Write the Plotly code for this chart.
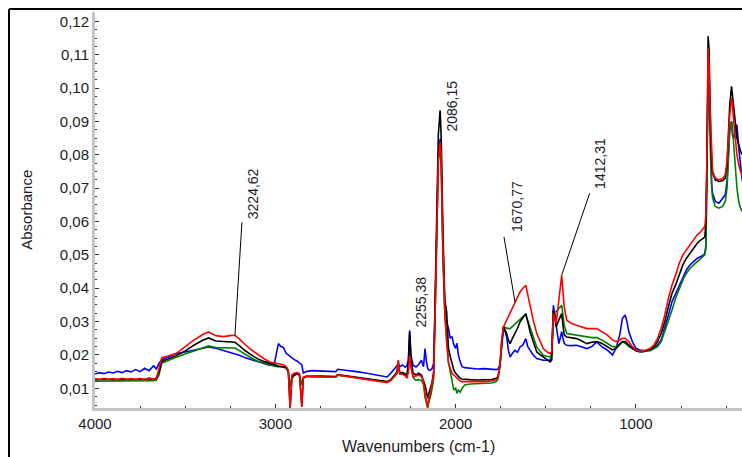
import plotly.graph_objects as go

# ---------------- data ----------------
wn = [4000, 3975, 3950, 3925, 3900, 3875, 3850, 3825, 3800, 3775,
      3750, 3725, 3700, 3675, 3660, 3645, 3630, 3600, 3575, 3550,
      3500, 3450, 3400, 3370, 3330, 3290, 3250, 3224, 3200, 3170,
      3130, 3100, 3060, 3030, 3005, 2990, 2983, 2970, 2955, 2940,
      2928, 2918, 2908, 2895, 2880, 2866, 2853, 2845, 2830, 2800,
      2750, 2700, 2665, 2655, 2600, 2550, 2500, 2450, 2400, 2380,
      2360, 2340, 2325, 2318, 2310, 2295, 2280, 2270, 2262, 2255,
      2248, 2236, 2220, 2205, 2190, 2178, 2170, 2162, 2155, 2148,
      2140, 2130, 2122, 2114, 2105, 2096, 2086, 2080, 2070, 2060,
      2050, 2040, 2030, 2020, 2010, 2000, 1993, 1985, 1975, 1965,
      1950, 1920, 1880, 1840, 1800, 1775, 1765, 1754, 1745, 1735,
      1726, 1717, 1708, 1698, 1685, 1671, 1657, 1643, 1627, 1611,
      1600, 1587, 1570, 1550, 1530, 1514, 1495, 1476, 1467, 1458,
      1450, 1443, 1435, 1427, 1420, 1412, 1405, 1398, 1384, 1360,
      1329, 1300, 1273, 1245, 1218, 1190, 1160, 1130, 1110, 1090,
      1075, 1060, 1050, 1040, 1020, 1000, 980, 960, 940, 920,
      900, 880, 860, 840, 820, 800, 780, 760, 740, 720,
      700, 680, 660, 640, 625, 618, 612, 606, 600, 595,
      590, 585, 580, 575, 560, 540, 520, 505, 495, 488,
      480, 470, 465, 458, 450, 440, 430, 420, 410]

blue = [.0143, .0147, .0144, .0149, .0146, .0151, .0147, .0153, .0149, .0156,
        .0150, .0160, .0153, .0168, .0158, .0175, .0185, .0192, .0200, .0204,
        .0209, .0214, .0220, .0224, .0220, .0214, .0208, .0204, .0199, .0192,
        .0185, .0179, .0173, .0169, .0175, .0215, .0234, .0226, .0222, .0205,
        .0200, .0195, .0190, .0186, .0182, .0176, .0170, .0146, .0150, .0153,
        .0152, .0151, .0150, .0157, .0154, .0150, .0146, .0141, .0136, .0134,
        .0145, .0160, .0168, .0172, .0165, .0170, .0163, .0168, .0185, .0274,
        .0200, .0169, .0164, .0172, .0184, .0165, .0219, .0180, .0160, .0154,
        .0154, .0160, .0175, .0330, .0600, .0800, .0848, .0780, .0500, .0340,
        .0300, .0280, .0250, .0255, .0230, .0220, .0235, .0200, .0180, .0165,
        .0162, .0160, .0158, .0159, .0157, .0156, .0158, .0170, .0230, .0279,
        .0270, .0254, .0215, .0194, .0205, .0214, .0208, .0224, .0230, .0249,
        .0225, .0214, .0200, .0189, .0186, .0184, .0184, .0184, .0200, .0349,
        .0320, .0284, .0260, .0234, .0250, .0270, .0250, .0235, .0229, .0228,
        .0229, .0225, .0219, .0225, .0239, .0225, .0215, .0200, .0220, .0260,
        .0310, .0320, .0300, .0270, .0240, .0220, .0215, .0213, .0213, .0215,
        .0220, .0230, .0245, .0280, .0320, .0360, .0385, .0410, .0435, .0455,
        .0470, .0480, .0490, .0495, .0500, .0505, .0530, .0780, .1050, .1000,
        .0880, .0780, .0710, .0685, .0660, .0655, .0670, .0680, .0720, .0820,
        .0880, .0900, .0860, .0850, .0870, .0890, .0820, .0760, .0720]

black = [.0126, .0127, .0126, .0127, .0126, .0127, .0126, .0127, .0127, .0127,
         .0127, .0128, .0128, .0128, .0130, .0150, .0180, .0187, .0192, .0198,
         .0212, .0230, .0245, .0251, .0242, .0240, .0239, .0238, .0228, .0214,
         .0199, .0189, .0180, .0174, .0170, .0168, .0167, .0166, .0165, .0163,
         .0150, .0040, .0130, .0140, .0144, .0140, .0045, .0130, .0136, .0137,
         .0137, .0136, .0135, .0141, .0137, .0133, .0129, .0125, .0121, .0120,
         .0126, .0138, .0148, .0175, .0145, .0148, .0142, .0140, .0180, .0269,
         .0190, .0145, .0140, .0145, .0140, .0125, .0110, .0090, .0070, .0085,
         .0100, .0120, .0150, .0340, .0620, .0860, .0933, .0850, .0560, .0364,
         .0330, .0220, .0195, .0170, .0155, .0145, .0140, .0135, .0130, .0128,
         .0127, .0126, .0125, .0125, .0126, .0130, .0135, .0170, .0235, .0284,
         .0275, .0264, .0245, .0234, .0250, .0264, .0280, .0299, .0312, .0324,
         .0300, .0269, .0240, .0209, .0200, .0194, .0185, .0179, .0185, .0334,
         .0320, .0284, .0295, .0304, .0315, .0324, .0290, .0260, .0254, .0252,
         .0249, .0242, .0234, .0238, .0240, .0235, .0225, .0215, .0220, .0230,
         .0240, .0240, .0235, .0230, .0220, .0213, .0210, .0210, .0213, .0218,
         .0225, .0240, .0265, .0300, .0345, .0385, .0410, .0440, .0470, .0490,
         .0505, .0520, .0535, .0545, .0550, .0555, .0600, .0800, .1155, .1120,
         .0950, .0850, .0770, .0745, .0725, .0720, .0722, .0730, .0770, .0860,
         .0950, .1005, .0980, .0930, .0890, .0850, .0830, .0810, .0800]

green = [.0121, .0121, .0122, .0121, .0122, .0121, .0122, .0122, .0121, .0122,
         .0122, .0122, .0123, .0123, .0124, .0140, .0175, .0182, .0188, .0193,
         .0203, .0212, .0222, .0227, .0222, .0221, .0222, .0221, .0213, .0202,
         .0190, .0182, .0175, .0169, .0166, .0165, .0164, .0164, .0163, .0160,
         .0150, .0105, .0135, .0140, .0143, .0140, .0110, .0132, .0135, .0135,
         .0135, .0134, .0133, .0139, .0135, .0131, .0127, .0123, .0120, .0119,
         .0124, .0136, .0150, .0182, .0143, .0145, .0140, .0138, .0160, .0204,
         .0170, .0132, .0124, .0126, .0124, .0110, .0074, .0060, .0040, .0060,
         .0074, .0100, .0130, .0320, .0590, .0780, .0823, .0760, .0480, .0320,
         .0250, .0180, .0150, .0120, .0095, .0100, .0085, .0095, .0088, .0100,
         .0110, .0113, .0114, .0115, .0116, .0120, .0128, .0165, .0240, .0284,
         .0282, .0280, .0279, .0279, .0286, .0294, .0300, .0309, .0315, .0320,
         .0303, .0279, .0252, .0224, .0210, .0199, .0196, .0194, .0200, .0334,
         .0330, .0329, .0335, .0340, .0345, .0349, .0320, .0290, .0264, .0262,
         .0259, .0256, .0254, .0252, .0252, .0245, .0235, .0225, .0225, .0235,
         .0240, .0235, .0230, .0225, .0220, .0212, .0210, .0210, .0211, .0213,
         .0218, .0225, .0240, .0270, .0300, .0335, .0370, .0400, .0425, .0445,
         .0460, .0470, .0480, .0490, .0495, .0500, .0520, .0750, .1030, .1000,
         .0850, .0770, .0700, .0670, .0645, .0640, .0645, .0660, .0700, .0800,
         .0870, .0900, .0880, .0830, .0760, .0700, .0660, .0640, .0630]

red = [.0129, .0126, .0130, .0127, .0129, .0126, .0130, .0127, .0129, .0126,
       .0130, .0125, .0131, .0127, .0128, .0160, .0192, .0196, .0200, .0204,
       .0225, .0245, .0262, .0269, .0258, .0255, .0258, .0259, .0248, .0232,
       .0214, .0202, .0188, .0179, .0176, .0174, .0173, .0172, .0171, .0165,
       .0155, .0040, .0140, .0145, .0147, .0144, .0045, .0133, .0136, .0135,
       .0135, .0134, .0133, .0140, .0135, .0131, .0127, .0123, .0119, .0117,
       .0124, .0136, .0145, .0185, .0143, .0142, .0138, .0130, .0150, .0199,
       .0165, .0134, .0138, .0140, .0135, .0120, .0084, .0065, .0044, .0070,
       .0084, .0120, .0140, .0324, .0600, .0790, .0838, .0800, .0520, .0330,
       .0240, .0175, .0160, .0145, .0140, .0135, .0130, .0125, .0122, .0120,
       .0120, .0119, .0119, .0120, .0122, .0126, .0134, .0174, .0240, .0284,
       .0294, .0304, .0314, .0324, .0340, .0359, .0374, .0389, .0400, .0409,
       .0380, .0344, .0305, .0264, .0238, .0219, .0210, .0204, .0210, .0324,
       .0310, .0294, .0330, .0374, .0410, .0439, .0390, .0344, .0304, .0295,
       .0289, .0284, .0279, .0279, .0279, .0270, .0260, .0245, .0240, .0245,
       .0250, .0250, .0245, .0240, .0225, .0215, .0212, .0212, .0215, .0220,
       .0230, .0250, .0280, .0320, .0370, .0410, .0440, .0475, .0500, .0515,
       .0530, .0545, .0560, .0570, .0580, .0585, .0620, .0800, .1120, .1080,
       .0950, .0860, .0780, .0750, .0730, .0725, .0728, .0740, .0780, .0850,
       .0920, .0970, .0950, .0900, .0850, .0800, .0770, .0750, .0740]

x_tick_vals = [4000, 3000, 2000, 1000]
x_tick_text = ["4000", "3000", "2000", "1000"]
y_tick_vals = [0.01, 0.02, 0.03, 0.04, 0.05, 0.06, 0.07, 0.08, 0.09, 0.10, 0.11, 0.12]
y_tick_text = ["0,01", "0,02", "0,03", "0,04", "0,05", "0,06", "0,07", "0,08", "0,09", "0,10", "0,11", "0,12"]

peak_text = ["3224,62", "2255,38", "2086,15", "1670,77", "1412,31"]
peak_wn = [3224, 2255, 2086, 1671, 1412]
peak_series = ["red", "black", "black", "red", "red"]

for s in (blue, black, green, red):
    assert len(s) == len(wn), len(s)

# ---------------- figure ----------------
series = {"blue": blue, "green": green, "black": black, "red": red}
colors = {"blue": "#0000ff", "green": "#008000", "black": "#000000", "red": "#ff0000"}

fig = go.Figure()
for name in ["blue", "green", "black", "red"]:
    fig.add_trace(go.Scatter(x=wn, y=series[name], mode="lines", name=name,
                             line=dict(color=colors[name], width=1.6),
                             showlegend=False, hoverinfo="skip"))

FONT = "Liberation Sans, Arial, sans-serif"
TXT = "#1c1c24"

# label placement (pixels from the labelled point): text centre and leader end
text_shift = [(18, 142), (11, 30), (12, 4), (2, 96), (39, 112)]
leader_end = [(7, 113), None, None, (-11, 65), (28, 82)]

for txt, w, sname, ts, le in zip(peak_text, peak_wn, peak_series, text_shift, leader_end):
    yv = series[sname][wn.index(w)]
    fig.add_annotation(x=w, y=yv, xref="x", yref="y", text=txt, showarrow=False,
                       textangle=-90, xanchor="center", yanchor="middle",
                       xshift=ts[0], yshift=ts[1],
                       font=dict(family=FONT, size=14, color=TXT))
    if le is not None:
        fig.add_shape(type="line", xref="x", yref="y", xsizemode="pixel", ysizemode="pixel",
                      xanchor=w, yanchor=yv, x0=0, y0=0, x1=le[0], y1=le[1],
                      line=dict(color="#000000", width=1))

# axis titles
fig.add_annotation(text="Wavenumbers (cm-1)", xref="paper", yref="paper", x=0.5, y=-0.096,
                   showarrow=False, xanchor="center", yanchor="middle",
                   font=dict(family=FONT, size=16, color=TXT))
fig.add_annotation(text="Absorbance", xref="paper", yref="paper", x=-0.107, y=0.5,
                   showarrow=False, textangle=-90, xanchor="center", yanchor="middle",
                   font=dict(family=FONT, size=15, color=TXT))

# outer frame (left and top edges visible)
fig.add_shape(type="line", xref="paper", yref="paper", x0=-0.1329, x1=-0.1329, y0=-0.13, y1=1.0076,
              line=dict(color="#000000", width=2))
fig.add_shape(type="line", xref="paper", yref="paper", x0=-0.1329, x1=1.01, y0=1.0076, y1=1.0076,
              line=dict(color="#000000", width=2))

fig.update_layout(
    width=742, height=457,
    margin=dict(l=95, r=0, t=12, b=49, pad=0),
    paper_bgcolor="white", plot_bgcolor="white",
    showlegend=False,
    xaxis=dict(range=[4000, 412], showgrid=False, zeroline=False,
               showline=True, linecolor="#c4c4c4", linewidth=3,
               tickmode="array", tickvals=x_tick_vals, ticktext=x_tick_text,
               ticks="inside", ticklen=4, tickwidth=1, tickcolor="#333333",
               tickfont=dict(family=FONT, size=15, color=TXT),
               minor=dict(ticks="inside", tickmode="linear", tick0=0, dtick=250,
                          ticklen=2, tickwidth=1, tickcolor="#333333")),
    yaxis=dict(range=[0.0041, 0.1228], showgrid=False, zeroline=False,
               showline=True, linecolor="#c4c4c4", linewidth=3,
               tickmode="array", tickvals=y_tick_vals, ticktext=y_tick_text,
               ticks="inside", ticklen=4, tickwidth=1, tickcolor="#333333",
               tickfont=dict(family=FONT, size=15, color=TXT),
               minor=dict(ticks="inside", tickmode="linear", tick0=0, dtick=0.0025,
                          ticklen=2, tickwidth=1, tickcolor="#333333")),
)

fig.write_html("out.html", config={"displayModeBar": False},
               post_script="document.body.style.margin='0';document.body.style.overflow='hidden';")
